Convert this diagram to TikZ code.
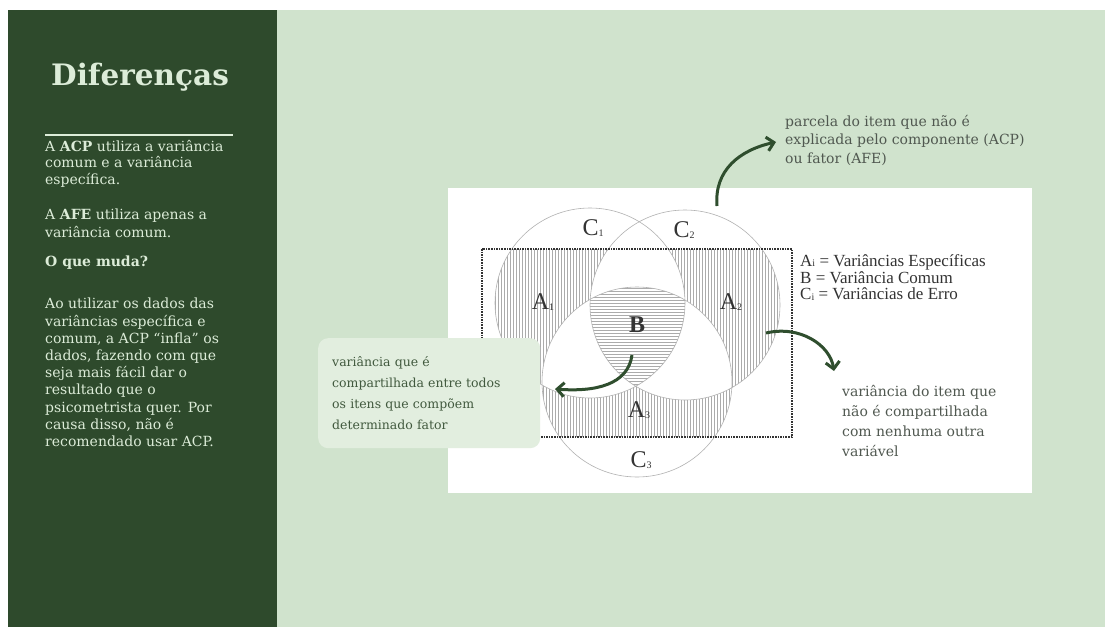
\documentclass[tikz,border=0pt]{standalone}
\usepackage{fontspec}
\setmainfont{DejaVu Serif}
\newfontfamily\diafont{Liberation Serif}
\usetikzlibrary{arrows.meta}

\definecolor{darkpanel}{HTML}{2E4A2C}
\definecolor{lightbg}{HTML}{D0E3CD}
\definecolor{paneltext}{HTML}{DCECD8}
\definecolor{notebox}{HTML}{E2EEDF}
\definecolor{notetext}{HTML}{41593E}
\definecolor{greytext}{HTML}{505850}
\definecolor{arrowgreen}{HTML}{2F4E2E}
\definecolor{hatchgray}{HTML}{ABABAB}

\newcommand\vsub[1]{\raisebox{-0.5pt}{\fontsize{10}{10}\selectfont#1}}

\tikzset{
  paneltxt/.style={anchor=north west,inner sep=0,align=left,text=paneltext,
    font=\fontsize{14}{17.2}\selectfont},
  notetxt/.style={anchor=north west,inner sep=0,align=left,text=greytext,
    font=\fontsize{14}{18.5}\selectfont},
  vennlabel/.style={text=black!80,inner sep=0,font=\diafont\fontsize{24}{24}\selectfont},
  legendtxt/.style={anchor=west,inner sep=0,text=black!80,font=\diafont\fontsize{17}{16}\selectfont},
  hatch/.style={hatchgray,line width=0.5pt},
  bigarrow/.style={arrowgreen,line width=3pt,-{Straight Barb[length=7pt,width=14pt]}},
}

\begin{document}
\begin{tikzpicture}[x=1pt,y=-1pt]
\useasboundingbox (0,0) rectangle (1105,631);
\fill[white] (0,0) rectangle (1105,631);
\fill[lightbg] (277,10) rectangle (1105,627);
\fill[darkpanel] (8,10) rectangle (277,627);

% left panel
\node[anchor=base west,inner sep=0,text=paneltext,font=\fontsize{29.5}{29.5}\selectfont\bfseries]
  (title) at (51,86) {Diferenças};
\draw[paneltext,line width=2pt] (45,135) -- (233,135);
\node[paneltxt,font=\fontsize{14}{16.6}\selectfont] (acp) at (45,140) {A \textbf{ACP} utiliza a variância\\comum e a variância\\específica.};
\node[paneltxt] (afe) at (45,209) {A \textbf{AFE} utiliza apenas a\\variância comum.};
\node[paneltxt] (muda) at (45,256) {\textbf{O que muda?}};
\node[paneltxt] (infla) at (45,298) {Ao utilizar os dados das\\variâncias específica e\\comum, a ACP “infla” os\\dados, fazendo com que\\seja mais fácil dar o\\resultado que o\\psicometrista quer. Por\\causa disso, não é\\recomendado usar ACP.};

% diagram
\fill[white] (448,188) rectangle (1032,493);
\coordinate (c1) at (590,303);
\coordinate (c2) at (685,305);
\coordinate (c3) at (637,382);

\begin{scope}
  \clip (482,249) rectangle (792,437);
  \foreach \c in {c1,c2,c3}{
    \begin{scope}
      \clip (\c) circle[radius=95];
      \foreach \x in {483,486,...,792} \draw[hatch] (\x,249) -- (\x,437);
    \end{scope}
  }
\end{scope}
\begin{scope}
  \clip (c1) circle[radius=95];
  \fill[white] (c2) circle[radius=95];
  \fill[white] (c3) circle[radius=95];
\end{scope}
\begin{scope}
  \clip (c2) circle[radius=95];
  \fill[white] (c3) circle[radius=95];
\end{scope}
\begin{scope}
  \clip (c1) circle[radius=95];
  \clip (c2) circle[radius=95];
  \clip (c3) circle[radius=95];
  \foreach \y in {288,291,...,390} \draw[hatch] (590,\y) -- (690,\y);
\end{scope}
\foreach \c in {c1,c2,c3} \draw[black!30,line width=0.6pt] (\c) circle[radius=95];
\draw[black!80,densely dotted,line width=1.6pt] (482,249) rectangle (792,437);

\node[vennlabel] (lc1) at (593,228) {C\vsub{1}};
\node[vennlabel] (lc2) at (684,230) {C\vsub{2}};
\node[vennlabel] (la1) at (543,302) {A\vsub{1}};
\node[vennlabel] (la2) at (731,302) {A\vsub{2}};
\node[vennlabel] (lb) at (637,325) {\bfseries B};
\node[vennlabel] (la3) at (639,410) {A\vsub{3}};
\node[vennlabel] (lc3) at (641,460) {C\vsub{3}};

\node[legendtxt] (legA) at (800,262) {A\vsub{i} = Variâncias Específicas};
\node[legendtxt] (legB) at (800,278) {B = Variância Comum};
\node[legendtxt] (legC) at (800,294) {C\vsub{i} = Variâncias de Erro};

% notes
\node[anchor=north west,fill=notebox,rounded corners=10pt,minimum width=222pt,
  minimum height=110pt,inner xsep=14pt,text width=194pt,align=left,text=notetext,
  font=\fontsize{12.5}{21}\selectfont] (sharednote) at (318,338)
  {variância que é\\compartilhada entre todos\\os itens que compõem\\determinado fator};
\node[notetxt] (residnote) at (785,115) {parcela do item que não é\\explicada pelo componente (ACP)\\ou fator (AFE)};
\node[notetxt,font=\fontsize{14}{20}\selectfont] (uniqnote) at (842,385) {variância do item que\\não é compartilhada\\com nenhuma outra\\variável};

% arrows
\coordinate (topfrom) at (717,206);
\coordinate (topto) at (776,142);
\coordinate (rightfrom) at (766,333);
\coordinate (rightto) at (834,371);
\coordinate (bfrom) at (632,355);
\coordinate (bto) at (555,389);
\draw[bigarrow] (topfrom) .. controls (714,170) and (740,150) .. (topto);
\draw[bigarrow] (rightfrom) .. controls (800,325) and (830,345) .. (rightto);
\draw[bigarrow] (bfrom) .. controls (628,385) and (595,392) .. (bto);
\end{tikzpicture}
\end{document}
